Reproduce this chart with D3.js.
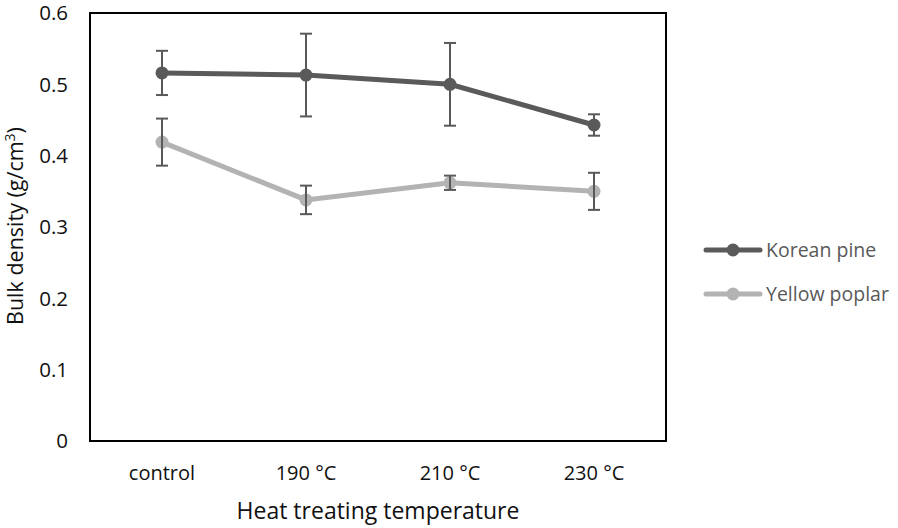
<!DOCTYPE html>
<html><head><meta charset="utf-8">
<script src="https://cdn.jsdelivr.net/npm/d3@7"></script>
<style>body{margin:0;background:#fff}svg{display:block;font-family:"Open Sans",sans-serif}</style>
</head><body><svg id="c" width="898" height="528"></svg>
<script>
const categories = ["control", "190 °C", "210 °C", "230 °C"];
const seriesNames = ["Korean pine", "Yellow poplar"];
const koreanPine = [0.516, 0.513, 0.500, 0.443];
const koreanPineErr = [0.031, 0.058, 0.058, 0.015];
const yellowPoplar = [0.419, 0.338, 0.362, 0.350];
const yellowPoplarErr = [0.033, 0.020, 0.010, 0.026];
const yTicks = [0, 0.1, 0.2, 0.3, 0.4, 0.5, 0.6];
const colors = ["#5a5a5a", "#b3b3b3"];

const svg = d3.select("#c");
const L = 90, R = 666, T = 13, B = 441;
const x = d3.scaleBand().domain(categories).range([L, R]);
const y = d3.scaleLinear().domain([0, 0.6]).range([B, T]);

// y tick labels
svg.append("g").selectAll("text").data(yTicks).join("text")
  .attr("x", 68).attr("y", d => y(d)).attr("dy", "0.36em")
  .attr("text-anchor", "end").attr("font-size", 20.5).attr("fill", "#111")
  .text(d => d === 0 ? "0" : d3.format(".1f")(d));
// x tick labels
svg.append("g").selectAll("text").data(categories).join("text")
  .attr("x", d => x(d) + x.bandwidth() / 2).attr("y", 480)
  .attr("text-anchor", "middle").attr("font-size", 20).attr("fill", "#111")
  .text(d => d);

const series = [
  {name: seriesNames[0], vals: koreanPine, err: koreanPineErr, color: colors[0]},
  {name: seriesNames[1], vals: yellowPoplar, err: yellowPoplarErr, color: colors[1]}
];
const cx = i => x(categories[i]) + x.bandwidth() / 2;
const line = d3.line().x((d, i) => cx(i)).y(d => y(d));

series.forEach(s => {
  const g = svg.append("g");
  g.append("path").attr("d", line(s.vals)).attr("fill", "none")
    .attr("stroke", s.color).attr("stroke-width", 5);
  g.selectAll("circle").data(s.vals).join("circle")
    .attr("cx", (d, i) => cx(i)).attr("cy", d => y(d)).attr("r", 6.5).attr("fill", s.color);
  const eb = g.append("g").attr("stroke", "#595959").attr("stroke-width", 2);
  s.vals.forEach((v, i) => {
    const e = s.err[i], X = cx(i);
    eb.append("line").attr("x1", X).attr("x2", X).attr("y1", y(v + e)).attr("y2", y(v - e));
    eb.append("line").attr("x1", X - 6).attr("x2", X + 6).attr("y1", y(v + e)).attr("y2", y(v + e));
    eb.append("line").attr("x1", X - 6).attr("x2", X + 6).attr("y1", y(v - e)).attr("y2", y(v - e));
  });
});

// frame
svg.append("rect").attr("x", L).attr("y", T).attr("width", R - L).attr("height", B - T)
  .attr("fill", "none").attr("stroke", "#000").attr("stroke-width", 2);

// legend
series.forEach((s, i) => {
  const ly = 250 + i * 44;
  svg.append("line").attr("x1", 706).attr("x2", 760).attr("y1", ly).attr("y2", ly)
    .attr("stroke", s.color).attr("stroke-width", 5).attr("stroke-linecap", "round");
  svg.append("circle").attr("cx", 733).attr("cy", ly).attr("r", 6.5).attr("fill", s.color);
  svg.append("text").attr("x", 766).attr("y", ly).attr("dy", "0.36em")
    .attr("font-size", 19.5).attr("fill", "#595959").text(s.name);
});

// axis titles
svg.append("text").attr("x", 378).attr("y", 519).attr("text-anchor", "middle")
  .attr("font-size", 23).attr("fill", "#111").text("Heat treating temperature");
const yt = svg.append("text").attr("transform", "translate(23,226) rotate(-90)")
  .attr("text-anchor", "middle").attr("font-size", 21.5).attr("fill", "#111");
yt.append("tspan").text("Bulk density (g/cm");
yt.append("tspan").attr("font-size", 14).attr("dy", -8).text("3");
yt.append("tspan").attr("dy", 8).text(")");
</script></body></html>
